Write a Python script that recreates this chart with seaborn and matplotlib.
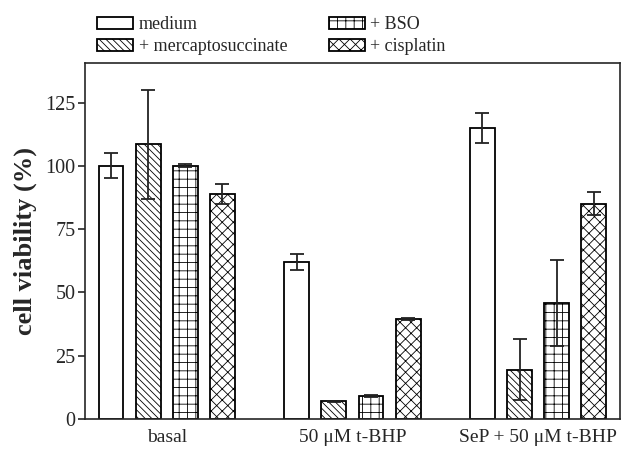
import pandas as pd
import matplotlib
matplotlib.use('Agg')
import matplotlib.pyplot as plt
import seaborn as sns

# valori
conditions = ['basal', '50 μM t-BHP', 'SeP + 50 μM t-BHP']
treatments = ['medium', '+ mercaptosuccinate', '+ BSO', '+ cisplatin']
medium = [100, 62, 115]
medium_err = [5, 3, 6]
mercapto = [108.5, 7, 19.5]
mercapto_err = [21.5, 0.3, 12]
bso = [100, 9.2, 46]
bso_err = [0.6, 0.4, 17]
cisplatin = [89, 39.7, 85]
cisplatin_err = [4, 0.4, 4.6]

means = [medium, mercapto, bso, cisplatin]
errs = [medium_err, mercapto_err, bso_err, cisplatin_err]

rows = []
for t, m, e in zip(treatments, means, errs):
    for c, v, s in zip(conditions, m, e):
        rows.append({'condition': c, 'treatment': t, 'viability': v, 'sd': s})
df = pd.DataFrame(rows)

sns.set_style('ticks')
plt.rcParams['font.family'] = ['Liberation Serif', 'DejaVu Serif']
plt.rcParams['hatch.linewidth'] = 0.6
plt.rcParams['hatch.color'] = '#333333'

fig = plt.figure(figsize=(6.23, 4.55), dpi=100)
ax = fig.add_axes([0.1364, 0.079, 0.8586, 0.7825])

sns.barplot(data=df, x='condition', y='viability', hue='treatment',
            order=conditions, hue_order=treatments, palette=['white'] * 4,
            edgecolor='black', linewidth=1.3, width=0.8, gap=0.33,
            errorbar=None, legend=False, ax=ax)

bars = list(ax.containers)
hatches = ['', '\\\\\\\\\\', '++', 'xxx']
for cont, h, e in zip(bars, hatches, errs):
    for bar in cont:
        bar.set_hatch(h)
    xs = [b.get_x() + b.get_width() / 2 for b in cont]
    ys = [b.get_height() for b in cont]
    ax.errorbar(xs, ys, yerr=e, fmt='none', ecolor='#222222',
                elinewidth=1.3, capsize=5, capthick=1.3)

handles = [cont.patches[0] for cont in bars]
fig.legend(handles, treatments, loc='upper left', bbox_to_anchor=(0.1557, 0.964),
           ncol=2, frameon=False, fontsize=13, handlelength=2.0,
           handleheight=0.7, handletextpad=0.3, columnspacing=2.3,
           labelspacing=0.28, borderaxespad=0, borderpad=0)

ax.set_xlim(-0.44, 2.44)
ax.set_ylim(0, 140.6)
ax.set_yticks([0, 25, 50, 75, 100, 125])
ax.tick_params(axis='y', labelsize=14.5, direction='out', length=5, width=1.2, pad=2)
ax.tick_params(axis='x', labelsize=14, length=0, pad=7)
ax.set_xlabel('')
ax.set_ylabel('cell viability (%)', fontsize=19, fontweight='bold', labelpad=6)
for sp in ax.spines.values():
    sp.set_visible(True)
    sp.set_linewidth(1.2)

fig.savefig('out.png', dpi=100)
